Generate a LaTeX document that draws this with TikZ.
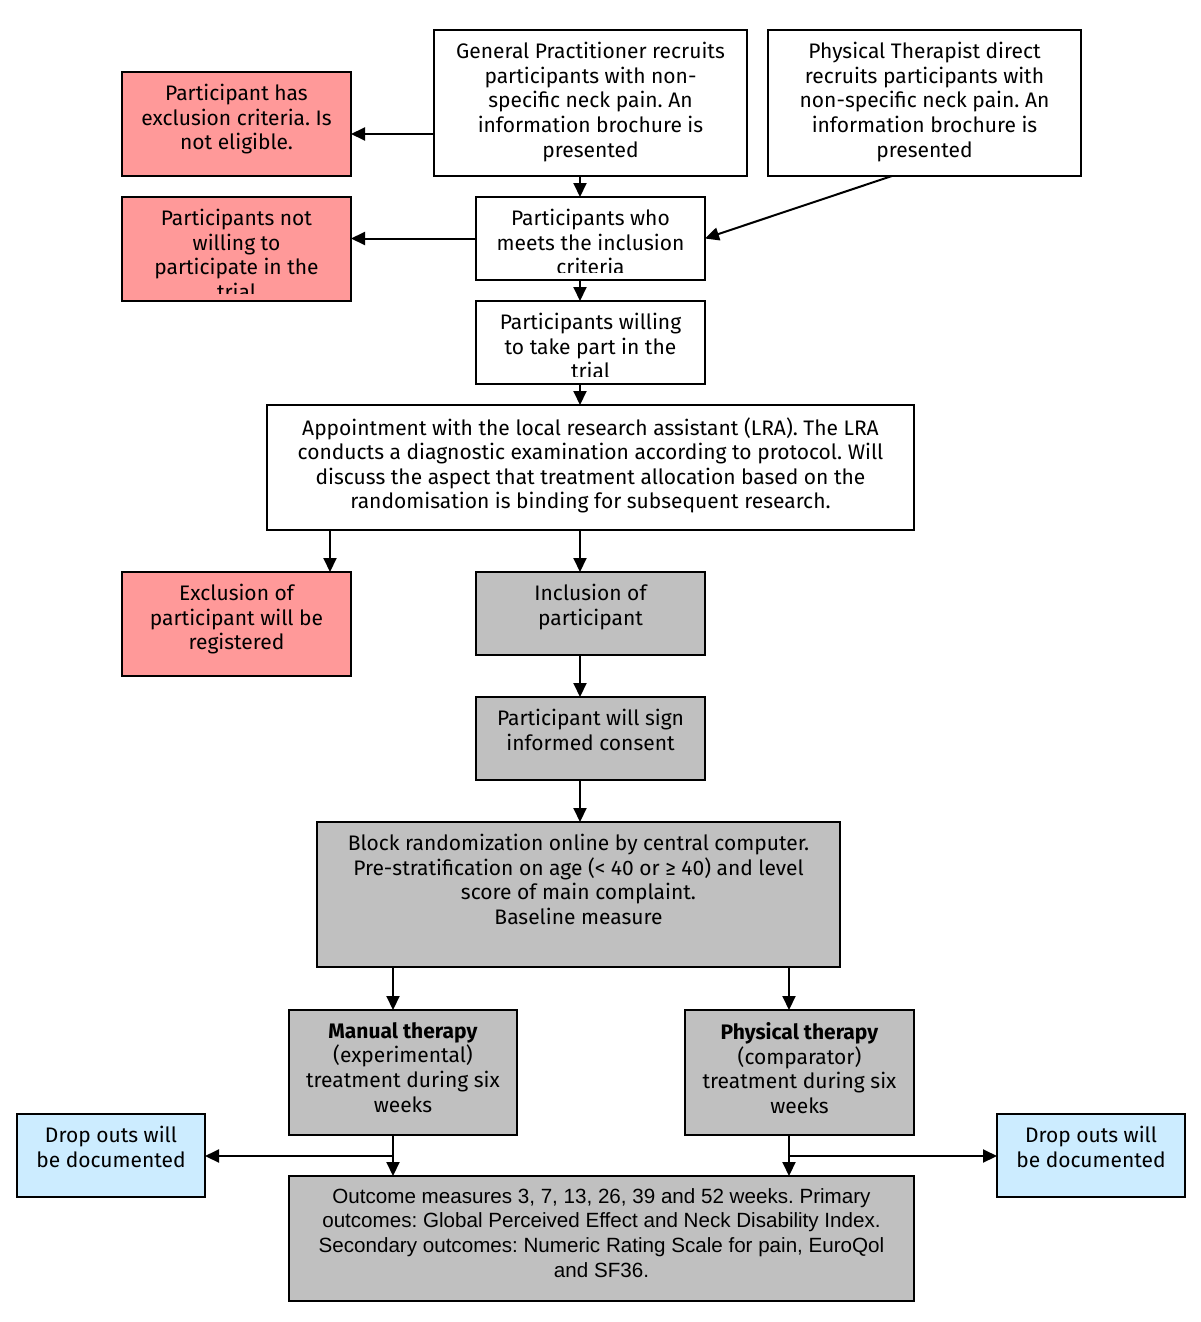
\documentclass[tikz,border=0pt]{standalone}
\usepackage{fontspec}
\setmainfont{Fira Sans}
\newfontfamily\arialfont{Liberation Sans}
\usetikzlibrary{arrows.meta,calc}
\frenchspacing
\definecolor{redfill}{HTML}{FF9999}
\definecolor{greyfill}{HTML}{C0C0C0}
\definecolor{bluefill}{HTML}{CCECFF}
\tikzset{
  box/.style={draw, line width=1pt, anchor=north west, inner sep=0pt, outer sep=0pt},
  txt/.style={anchor=north, align=center, inner sep=0pt, font=\frenchspacing\fontsize{10.5pt}{12.3pt}\selectfont},
  txtarial/.style={txt, font=\frenchspacing\arialfont\fontsize{10.3pt}{12.3pt}\selectfont},
  arr/.style={line width=1pt, -{Triangle[length=7pt,width=6.5pt]}},
  plain/.style={line width=1pt}
}
\newcommand\flowbox[7]{%
  \node[box,#6,minimum width={(#4-#2)*0.5pt},minimum height={(#5-#3)*0.5pt}] (#1) at (#2,#3) {};
  \node[txt] (#1t) at ($(#1.north)+(0,12)$) {#7};
}
\newcommand\flowboxclip[7]{%
  \node[box,#6,minimum width={(#4-#2)*0.5pt},minimum height={(#5-#3)*0.5pt}] (#1) at (#2,#3) {};
  \begin{scope}
    \clip (#1.north west) rectangle ($(#1.south east)+(0,-8)$);
    \node[txt] (#1t) at ($(#1.north)+(0,12)$) {#7};
  \end{scope}
}
\begin{document}
\begin{tikzpicture}[x=0.5pt,y=-0.5pt]
\useasboundingbox[fill=white] (0,0) rectangle (1200,1322);

\flowbox{gp}{434}{30}{747}{176}{fill=white}{General Practitioner recruits\\participants with non-\\specific neck pain. An\\information brochure is\\presented}
\flowbox{pt}{768}{30}{1081}{176}{fill=white}{Physical Therapist direct\\recruits participants with\\non-specific neck pain. An\\information brochure is\\presented}
\flowbox{excl}{122}{72}{351}{176}{fill=redfill}{Participant has\\exclusion criteria. Is\\not eligible.}
\flowboxclip{notw}{122}{197}{351}{301}{fill=redfill}{Participants not\\willing to\\participate in the\\trial}
\flowboxclip{meets}{476}{197}{705}{280}{fill=white}{Participants who\\meets the inclusion\\criteria}
\flowboxclip{will}{476}{301}{705}{384}{fill=white}{Participants willing\\to take part in the\\trial}
\flowbox{appt}{267}{405}{914}{530}{fill=white}{Appointment with the local research assistant (LRA). The LRA\\conducts a diagnostic examination according to protocol. Will\\discuss the aspect that treatment allocation based on the\\randomisation is binding for subsequent research.}
\flowbox{exreg}{122}{572}{351}{676}{fill=redfill}{Exclusion of\\participant will be\\registered}
\flowbox{incl}{476}{572}{705}{655}{fill=greyfill}{Inclusion of\\participant}
\flowbox{cons}{476}{697}{705}{780}{fill=greyfill}{Participant will sign\\informed consent}
\flowbox{block}{317}{822}{840}{967}{fill=greyfill}{Block randomization online by central computer.\\Pre-stratification on age (< 40 or ≥ 40) and level\\score of main complaint.\\Baseline measure}
\flowbox{man}{289}{1010}{517}{1135}{fill=greyfill}{\textbf{Manual therapy}\\(experimental)\\treatment during six\\weeks}
\flowbox{phys}{685}{1010}{914}{1135}{fill=greyfill}{\textbf{Physical therapy}\\(comparator)\\treatment during six\\weeks}
\flowbox{dropl}{17}{1114}{205}{1197}{fill=bluefill}{Drop outs will\\be documented}
\flowbox{dropr}{997}{1114}{1185}{1197}{fill=bluefill}{Drop outs will\\be documented}
\node[box,fill=greyfill,minimum width={(914-289)*0.5pt},minimum height={(1301-1176)*0.5pt}] (outc) at (289,1176) {};
\node[txtarial] (outct) at ($(outc.north)+(0,12)$) {Outcome measures 3, 7, 13, 26, 39 and 52 weeks. Primary\\outcomes: Global Perceived Effect and Neck Disability Index.\\Secondary outcomes: Numeric Rating Scale for pain, EuroQol\\and SF36.};

\coordinate (xa) at (580,0);
\coordinate (xb) at (330,0);
\coordinate (xc) at (393,0);
\coordinate (xd) at (789,0);
\coordinate (xp) at (892,0);
\coordinate (yb) at (0,134);
\coordinate (yd) at (0,1156);

\draw[arr] (gp.west |- yb) -- (excl.east |- yb);
\draw[arr] (gp.south -| xa) -- (meets.north -| xa);
\draw[arr] (pt.south -| xp) -- (meets.east);
\draw[arr] (meets.west) -- (notw.east |- meets.west);
\draw[arr] (meets.south -| xa) -- (will.north -| xa);
\draw[arr] (will.south -| xa) -- (appt.north -| xa);
\draw[arr] (appt.south -| xb) -- (exreg.north -| xb);
\draw[arr] (appt.south -| xa) -- (incl.north -| xa);
\draw[arr] (incl.south -| xa) -- (cons.north -| xa);
\draw[arr] (cons.south -| xa) -- (block.north -| xa);
\draw[arr] (block.south -| xc) -- (man.north -| xc);
\draw[arr] (block.south -| xd) -- (phys.north -| xd);
\draw[arr] (man.south -| xc) -- (outc.north -| xc);
\draw[arr] (phys.south -| xd) -- (outc.north -| xd);
\coordinate (jl) at (xc |- yd);
\coordinate (jr) at (xd |- yd);
\draw[arr] (jl) -- (dropl.east |- yd);
\draw[arr] (jr) -- (dropr.west |- yd);
\end{tikzpicture}
\end{document}
